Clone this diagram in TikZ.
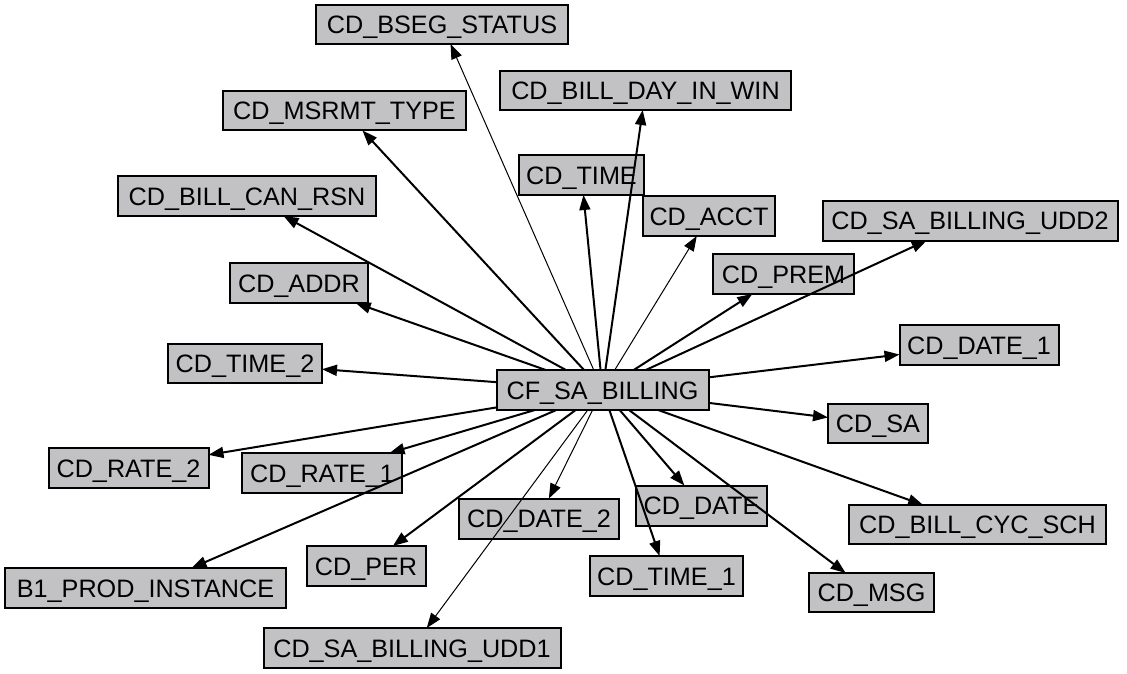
\documentclass[tikz,border=0pt]{standalone}
\usepackage{fontspec}
\setmainfont{Liberation Sans}
\usetikzlibrary{arrows.meta}
\definecolor{boxgray}{RGB}{194,194,196}
\tikzset{
  tbl/.style={draw=black, line width=2pt, fill=boxgray, inner sep=0pt, outer sep=0pt,
    font=\fontsize{25.2}{30}\selectfont, text=black, anchor=center,
    text height=18pt, text depth=0pt},
  rel/.style={line width=2pt, -{Triangle[length=15pt,width=11pt]}},
  relthin/.style={line width=1pt, -{Triangle[length=15pt,width=11pt]}}
}
\begin{document}
\begin{tikzpicture}[x=1pt,y=-1pt]
\useasboundingbox (0,0) rectangle (1127,674);
\node[tbl, minimum width=252pt, minimum height=39pt] (bseg) at (442,24.5) {CD\_BSEG\_STATUS};
\node[tbl, minimum width=291pt, minimum height=39pt] (bdiw) at (645.5,90.5) {CD\_BILL\_DAY\_IN\_WIN};
\node[tbl, minimum width=243pt, minimum height=39pt] (msrmt) at (344.5,111) {CD\_MSRMT\_TYPE};
\node[tbl, minimum width=125pt, minimum height=40pt] (time) at (581.5,175) {CD\_TIME};
\node[tbl, minimum width=258pt, minimum height=40pt] (bcr) at (247,196) {CD\_BILL\_CAN\_RSN};
\node[tbl, minimum width=132pt, minimum height=40pt] (acct) at (709,216) {CD\_ACCT};
\node[tbl, minimum width=295pt, minimum height=40pt] (udd2) at (970,220.5) {CD\_SA\_BILLING\_UDD2};
\node[tbl, minimum width=141pt, minimum height=40pt] (prem) at (783.5,274) {CD\_PREM};
\node[tbl, minimum width=138pt, minimum height=40pt] (addr) at (299,283) {CD\_ADDR};
\node[tbl, minimum width=159pt, minimum height=40pt] (date1) at (979,345) {CD\_DATE\_1};
\node[tbl, minimum width=154pt, minimum height=39pt] (time2) at (245,363.5) {CD\_TIME\_2};
\node[tbl, minimum width=212pt, minimum height=40pt] (src) at (602.5,390) {CF\_SA\_BILLING};
\node[tbl, minimum width=100pt, minimum height=39pt] (sa) at (878,423.5) {CD\_SA};
\node[tbl, minimum width=160pt, minimum height=40pt] (rate2) at (128.5,468) {CD\_RATE\_2};
\node[tbl, minimum width=160pt, minimum height=40pt] (rate1) at (322,473) {CD\_RATE\_1};
\node[tbl, minimum width=131pt, minimum height=40pt] (date) at (701.5,505.5) {CD\_DATE};
\node[tbl, minimum width=160pt, minimum height=40pt] (date2) at (539,518.5) {CD\_DATE\_2};
\node[tbl, minimum width=257pt, minimum height=39pt] (bcs) at (977.5,524.5) {CD\_BILL\_CYC\_SCH};
\node[tbl, minimum width=119pt, minimum height=40pt] (per) at (366,566) {CD\_PER};
\node[tbl, minimum width=153pt, minimum height=40pt] (time1) at (666.5,576) {CD\_TIME\_1};
\node[tbl, minimum width=281pt, minimum height=40pt] (b1) at (145.5,588) {B1\_PROD\_INSTANCE};
\node[tbl, minimum width=125pt, minimum height=39pt] (msg) at (871.5,592.5) {CD\_MSG};
\node[tbl, minimum width=297pt, minimum height=40pt] (udd1) at (412,648) {CD\_SA\_BILLING\_UDD1};
% connectors
\draw[relthin] (src) -- (bseg);
\draw[rel] (src) -- (bdiw);
\draw[rel] (src) -- (msrmt);
\draw[rel] (src) -- (time);
\draw[rel] (src) -- (bcr);
\draw[relthin] (src) -- (acct);
\draw[rel] (src) -- (udd2);
\draw[rel] (src) -- (prem);
\draw[rel] (src) -- (addr);
\draw[rel] (src) -- (date1);
\draw[rel] (src) -- (time2);
\draw[rel] (src) -- (sa);
\draw[rel] (src) -- (rate2);
\draw[rel] (src) -- (rate1);
\draw[rel] (src) -- (date);
\draw[relthin] (src) -- (date2);
\draw[rel] (src) -- (bcs);
\draw[rel] (src) -- (per);
\draw[rel] (src) -- (time1);
\draw[rel] (src) -- (b1);
\draw[rel] (src) -- (msg);
\draw[relthin] (src) -- (udd1);
\end{tikzpicture}
\end{document}
